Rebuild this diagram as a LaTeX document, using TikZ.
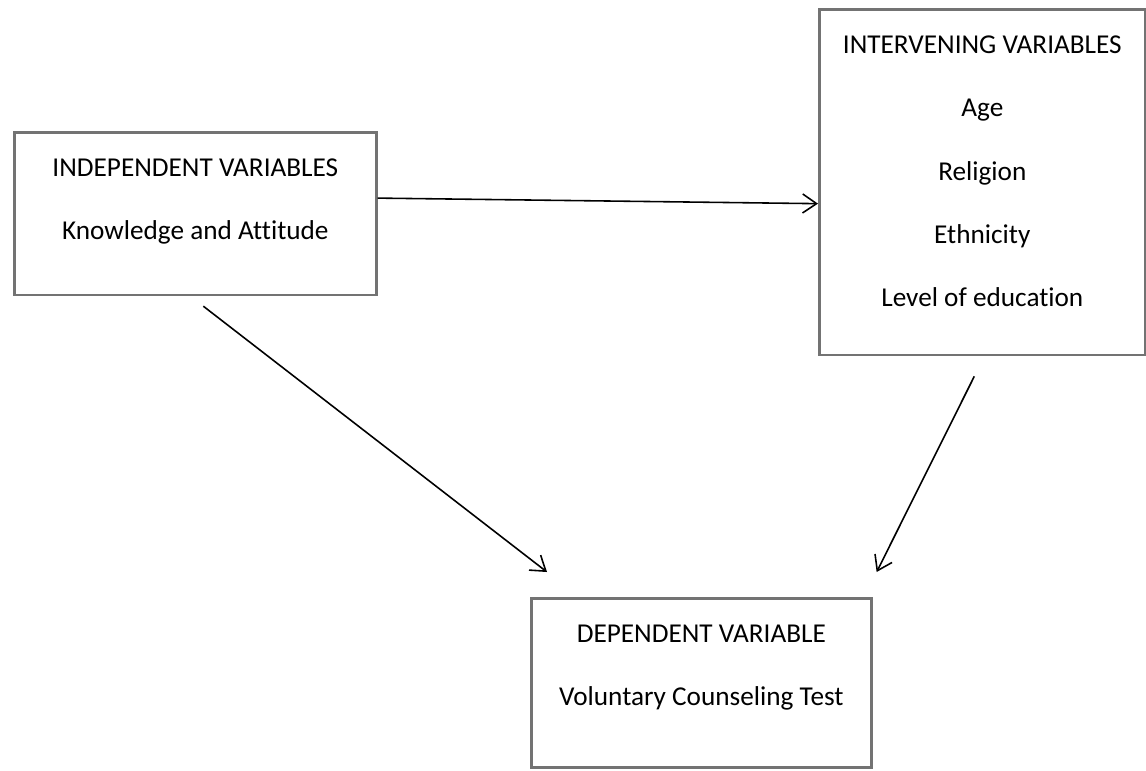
\documentclass[tikz,border=0pt]{standalone}
\usepackage{fontspec}
\setmainfont{Carlito}[Ligatures=NoCommon]
\usepackage{tikz}
\usetikzlibrary{positioning,arrows.meta}
\tikzstyle{arrow} = [line width=0.9pt, -{Straight Barb[length=2.8mm,width=3.8mm]}]

\begin{document}
\begin{tikzpicture}[
    varbox/.style={
        rectangle,
        draw=black!55,
        line width=1.5pt,
        fill=white,
        anchor=north west,
        inner ysep=0pt,
        font=\fontsize{15.5}{36}\selectfont
    }
    ]

    \useasboundingbox (0,0) rectangle (22.92,-15.4);

    % Independent variables
    \node[varbox, minimum width=7.24cm] (indep) at (0.26,-2.62) {
    \begin{tabular}{c}
        INDEPENDENT VARIABLES \\
        Knowledge and Attitude \\[20.5pt]
    \end{tabular}
    };

    % Intervening variables
    \node[varbox, minimum width=6.52cm] (interv) at (16.36,-0.16) {
    \begin{tabular}{c}
        INTERVENING VARIABLES \\
        Age \\
        Religion \\
        Ethnicity \\
        Level of education \\[16.7pt]
    \end{tabular}
    };

    % Dependent variable
    \node[varbox, minimum width=6.8cm] (dep) at (10.6,-11.94) {
    \begin{tabular}{c}
        DEPENDENT VARIABLE \\
        Voluntary Counseling Test \\[24.4pt]
    \end{tabular}
    };

    \draw[arrow] ([yshift=0.31cm]indep.east) -- ([yshift=-0.43cm]interv.west);
    \draw[arrow] ([shift={(0.16,-0.2)}]indep.south) -- ([shift={(0.34,0.5)}]dep.north west);
    \draw[arrow] ([shift={(-0.16,-0.4)}]interv.south) -- ([shift={(0.08,0.5)}]dep.north east);
    \end{tikzpicture}
\end{document}
